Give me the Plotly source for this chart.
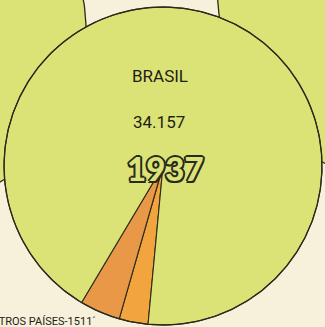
import numpy as np
import plotly.graph_objects as go

# Slices of the 1937 disc, listed clockwise from the bottom
slice_labels = ["", "OUTROS PAÍSES", "BRASIL"]
slice_values = [1081, 1511, 34157]
slice_colors = ["#f2a43e", "#e99848", "#dbe377"]

title_country = "BRASIL"
title_value = "34.157"
title_year = "1937"
side_label = "OUTROS PAÍSES-1511´"

W, H = 325, 327
BG = "#f7f1dc"
GREEN = "#dbe377"
INK = "#2a2a1c"

# geometry of the discs in screen units (y grows downward)
MAIN = dict(cx=163, cy=166, r=159, start_deg=5.4)
NEIGHBOURS = [dict(cx=-92, cy=30, r=178), dict(cx=417, cy=-14, r=200)]


def arc(cx, cy, r, a0, a1, n=200):
    # angle measured from straight down, turning clockwise on screen
    t = np.radians(np.linspace(a0, a1, n))
    return cx - r * np.sin(t), cy + r * np.cos(t)


fig = go.Figure()

# neighbouring discs, partly hidden behind the main one
for d in NEIGHBOURS:
    x, y = arc(d["cx"], d["cy"], d["r"], 0, 360, 400)
    fig.add_trace(go.Scatter(x=x, y=y, mode="lines", fill="toself",
                             fillcolor=GREEN, line=dict(color=INK, width=1.3),
                             hoverinfo="skip", showlegend=False))

# main disc: one wedge per value
total = sum(slice_values)
angle = MAIN["start_deg"]
for lab, val, col in zip(slice_labels, slice_values, slice_colors):
    span = 360.0 * val / total
    ax, ay = arc(MAIN["cx"], MAIN["cy"], MAIN["r"], angle, angle + span,
                 max(8, int(span * 2)))
    x = np.concatenate([[MAIN["cx"]], ax, [MAIN["cx"]]])
    y = np.concatenate([[MAIN["cy"]], ay, [MAIN["cy"]]])
    fig.add_trace(go.Scatter(x=x, y=y, mode="lines", fill="toself",
                             fillcolor=col, line=dict(color=INK, width=1.1),
                             name=lab, hoverinfo="name", showlegend=False))
    angle += span

# outer rim of the main disc
x, y = arc(MAIN["cx"], MAIN["cy"], MAIN["r"], 0, 360, 500)
fig.add_trace(go.Scatter(x=x, y=y, mode="lines", line=dict(color=INK, width=1.3),
                         hoverinfo="skip", showlegend=False))

thin = "Roboto, sans-serif"
outline = ", ".join(f"{dx}px {dy}px 0 {INK}" for dx, dy in
                    [(-2, 0), (2, 0), (0, -2), (0, 2), (-1.5, -1.5), (1.5, -1.5),
                     (-1.5, 1.5), (1.5, 1.5)])

fig.update_layout(
    width=W, height=H,
    margin=dict(l=0, r=0, t=0, b=0),
    paper_bgcolor=BG, plot_bgcolor=BG,
    xaxis=dict(range=[0, W], visible=False, fixedrange=True),
    yaxis=dict(range=[H, 0], visible=False, fixedrange=True),
    annotations=[
        dict(x=160, y=76, text=title_country, showarrow=False,
             font=dict(family=thin, size=17, weight=400, color="#1e1e14")),
        dict(x=159, y=122, text=title_value, showarrow=False,
             font=dict(family=thin, size=17, weight=400, color="#1e1e14")),
        dict(x=165, y=168, text=title_year, showarrow=False,
             font=dict(family="Lato, Roboto, sans-serif", size=33, weight=900,
                       color=GREEN, shadow=outline)),
        dict(x=98, y=321, text=side_label, showarrow=False, xanchor="right",
             font=dict(family=thin, size=11, color="#1e1e14")),
    ],
)

fig.write_html("out.html")
